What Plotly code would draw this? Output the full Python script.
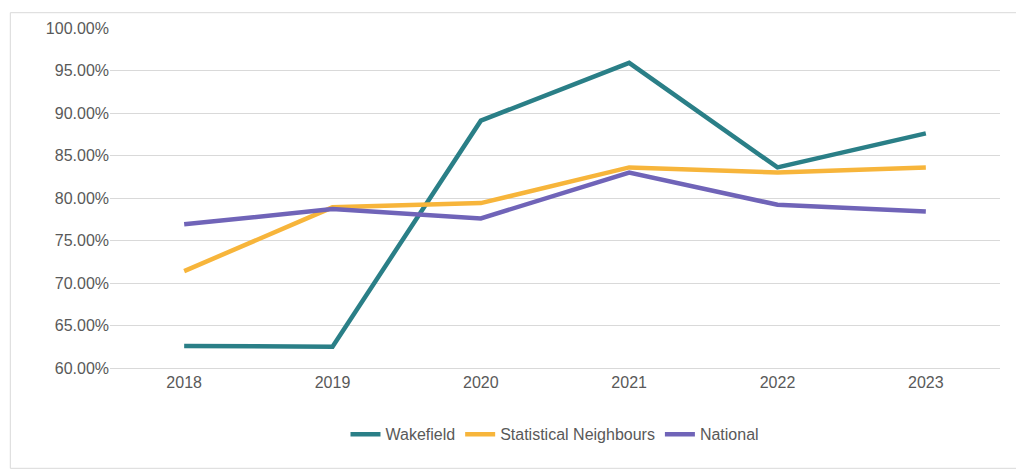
import plotly.graph_objects as go

years = ["2018", "2019", "2020", "2021", "2022", "2023"]
wakefield = [62.6, 62.5, 89.1, 95.9, 83.6, 87.6]
stat_neighbours = [71.4, 78.9, 79.4, 83.6, 83.0, 83.6]
national = [76.9, 78.7, 77.6, 83.0, 79.2, 78.4]
y_ticks = [60, 65, 70, 75, 80, 85, 90, 95, 100]

fig = go.Figure()
for name, vals, col in [("Wakefield", wakefield, "#2A7F87"),
                        ("Statistical Neighbours", stat_neighbours, "#F7B53B"),
                        ("National", national, "#7064B8")]:
    fig.add_trace(go.Scatter(x=years, y=vals, name=name, mode="lines",
                             line=dict(color=col, width=4.5)))

# page has an 8px body margin, so margins are shifted up/left by 8
fig.update_layout(
    width=1024, height=469, paper_bgcolor="white", plot_bgcolor="white",
    margin=dict(l=102, r=32, t=16, b=109),
    font=dict(family="Liberation Sans, Arial", size=16, color="#595959"),
    legend=dict(orientation="h", x=0.5, xanchor="center", y=-0.195, yanchor="middle",
                font=dict(size=16)),
    xaxis=dict(type="category", showgrid=False, showline=True, linecolor="#d9d9d9",
               ticks="", range=[-0.5, 5.5]),
    yaxis=dict(range=[60, 100], tickvals=y_ticks,
               ticktext=[f"{v:.2f}%" for v in y_ticks], gridcolor="#d9d9d9",
               zeroline=False, ticks=""),
    shapes=[dict(type="rect", xref="paper", yref="paper", x0=-0.112, x1=1.036,
                 y0=-0.295, y1=1.045, line=dict(color="#d9d9d9", width=1))],
)
fig.write_html("out.html")
